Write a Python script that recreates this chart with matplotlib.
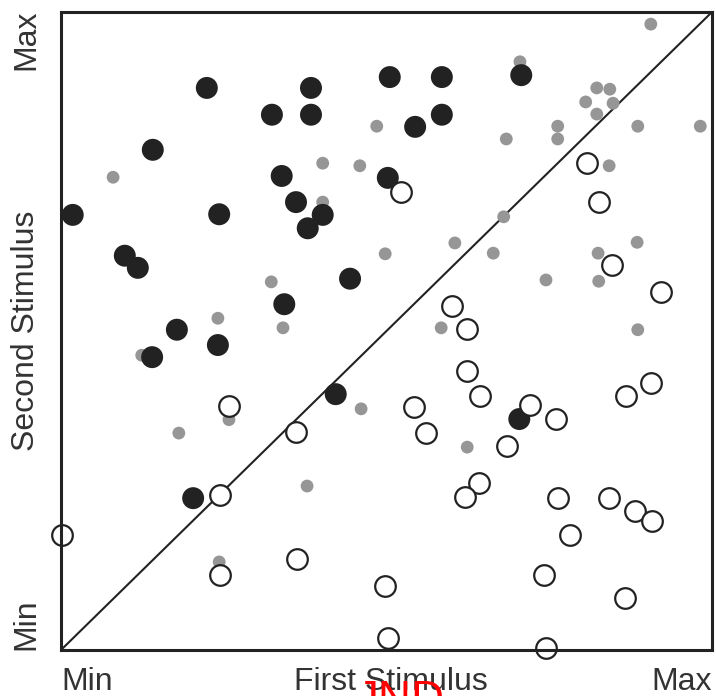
import matplotlib
matplotlib.use("Agg")
import matplotlib.pyplot as plt

plt.rcParams['font.family'] = ['Liberation Sans', 'DejaVu Sans']

# Data (First Stimulus, Second Stimulus), scale 0..100
black_x = [1.8, 14.1, 22.4, 32.4, 38.4, 38.4, 50.5, 58.5, 70.7, 54.4, 58.5, 33.9, 36.1, 40.2,
           37.9, 24.3, 50.2, 9.8, 11.8, 44.4, 34.3, 17.8, 24.1, 14.0, 42.2, 70.4, 20.3]
black_y = [68.2, 78.4, 88.1, 83.9, 88.1, 83.9, 89.8, 89.8, 90.1, 82.0, 83.9, 74.3, 70.2, 68.2,
           66.1, 68.3, 74.0, 61.8, 59.9, 58.2, 54.2, 50.2, 47.8, 45.9, 40.1, 36.2, 23.8]

gray_x = [48.5, 40.2, 45.9, 8.0, 40.2, 49.8, 32.3, 24.1, 34.1, 90.6, 70.5, 82.3, 84.3, 80.6,
          84.8, 82.3, 76.3, 76.3, 68.4, 88.6, 98.2, 84.2, 68.0, 60.5, 66.4, 82.5, 88.5, 74.5,
          82.6, 58.4, 88.6, 12.4, 25.8, 18.1, 46.1, 37.8, 24.3, 62.4]
gray_y = [82.1, 76.3, 75.9, 74.1, 70.2, 62.1, 57.7, 52.0, 50.5, 98.1, 92.2, 88.1, 87.9, 85.9,
          85.7, 84.0, 82.1, 80.1, 80.1, 82.1, 82.1, 75.9, 67.9, 63.8, 62.2, 62.2, 63.9, 58.0,
          57.8, 50.5, 50.2, 46.2, 36.1, 34.0, 37.8, 25.7, 13.8, 31.8]

open_x = [52.2, 80.8, 82.6, 84.6, 92.2, 60.1, 62.4, 25.8, 36.1, 24.4, 0.2, 24.4, 36.3, 49.8,
          50.2, 62.4, 64.4, 54.2, 56.1, 72.0, 76.0, 68.5, 64.2, 62.1, 76.3, 84.2, 88.2, 90.8,
          78.2, 74.2, 86.6, 74.5, 86.8, 90.6]
open_y = [71.8, 76.3, 70.2, 60.3, 56.1, 53.9, 50.3, 38.2, 34.2, 24.3, 18.0, 11.8, 14.3, 10.0,
          1.9, 43.7, 39.8, 38.1, 34.0, 38.4, 36.2, 32.0, 26.2, 24.0, 23.8, 23.8, 21.8, 20.2,
          18.0, 11.8, 8.2, 0.3, 39.8, 41.8]

diag = [0, 100]

W, H = 716, 696
fig = plt.figure(figsize=(W / 100, H / 100), dpi=100)
ax = fig.add_axes([61 / W, 46 / H, 651 / W, 638 / H])
ax.set_xlim(0, 100)
ax.set_ylim(0, 100)

ink = '#222222'
ax.plot(diag, diag, color=ink, lw=1.5, zorder=1)
ax.scatter(gray_x, gray_y, s=85, color='#969696', edgecolors='none', zorder=2, clip_on=False)
ax.scatter(black_x, black_y, s=250, color=ink, edgecolors='none', zorder=3, clip_on=False)
ax.scatter(open_x, open_y, s=220, facecolors='white', edgecolors=ink, linewidths=1.6,
           zorder=4, clip_on=False)

for sp in ax.spines.values():
    sp.set_linewidth(2.2)
    sp.set_color(ink)
    sp.set_zorder(5)
ax.set_xticks([])
ax.set_yticks([])

tc = '#333333'
fs = 23
fig.text(61 / W, 1 - 690 / H, 'Min', fontsize=fs, color=tc, ha='left', va='baseline')
fig.text(391 / W, 1 - 690 / H, 'First Stimulus', fontsize=fs, color=tc, ha='center', va='baseline')
fig.text(712 / W, 1 - 690 / H, 'Max', fontsize=fs, color=tc, ha='right', va='baseline')

fig.text(41 / W, 1 - 10 / H, 'Max', fontsize=fs, color=tc, rotation=90, ha='right', va='top')
fig.text(41 / W, 1 - 650 / H, 'Min', fontsize=fs, color=tc, rotation=90, ha='right', va='bottom')
fig.text(41 / W, 1 - 331 / H, 'Second Stimulus', fontsize=fs, color=tc, rotation=90,
         ha='right', va='center')

fig.text(400 / W, 1 - 679 / H, 'JND', fontsize=33, color='#ff0000', ha='center', va='top')

fig.savefig('out.png', dpi=100)
